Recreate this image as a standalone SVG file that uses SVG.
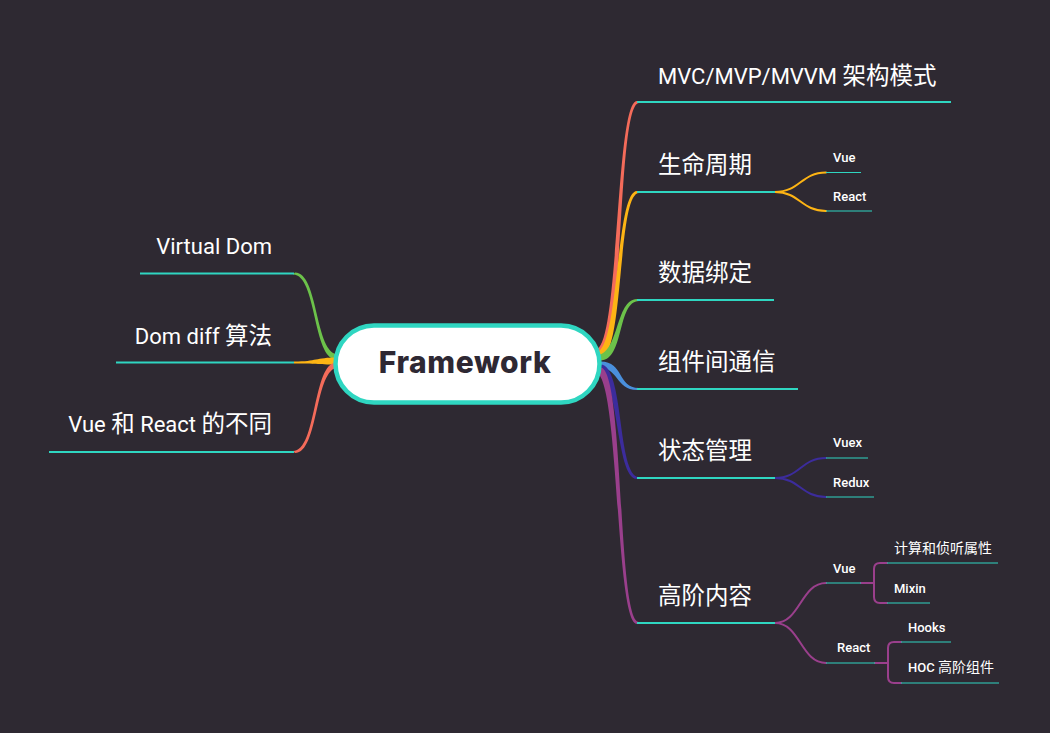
<svg xmlns="http://www.w3.org/2000/svg" width="1050" height="733" viewBox="0 0 1050 733">
<style>
.lbl{fill:#ffffff;font-family:Roboto,"Noto Sans CJK SC",sans-serif;font-size:22px;font-weight:400}
.sub{fill:#ffffff;font-family:Roboto,"Noto Sans CJK SC",sans-serif;font-size:13px;font-weight:500}
.cj{font-family:"Noto Sans CJK SC",sans-serif;font-size:23.5px;font-weight:400}
.cs{font-family:"Noto Sans CJK SC",sans-serif;font-size:14px;font-weight:400}
.ul{stroke:#2fd6c1;stroke-width:2;fill:none}
.ul2{stroke:#2fd6c1;stroke-width:1.2;fill:none}
.sb{fill:none;stroke-width:2;stroke-linecap:round}
</style>
<rect width="1050" height="733" fill="#2e2932"/>
<g id="connectors">
  <path fill="#f46b5a" d="M600.5,354.5 C624.5,354.5 617,103 639,103 L637,101 C615,101 619.5,349.5 595.5,349.5 Z"/>
  <path fill="#fdb414" d="M600.5,357.5 C624.5,357.5 617,193 639,193 L637,191 C615,191 619.5,352.5 595.5,352.5 Z"/>
  <path fill="#6cc24a" d="M600.5,360.5 C624.5,360.5 617,301 639,301 L637,299 C615,299 619.5,355.5 595.5,355.5 Z"/>
  <path fill="#4a8fdc" d="M600.5,361.5 C624.5,361.5 617,388 639,388 L637,390 C615,390 619.5,366.5 595.5,366.5 Z"/>
  <path fill="#3c2c9c" d="M600.5,364.5 C624.5,364.5 617,477 639,477 L637,479 C615,479 619.5,369.5 595.5,369.5 Z"/>
  <path fill="#9a3f8c" d="M600.5,367.5 C624.5,367.5 617,622 639,622 L637,624 C615,624 619.5,372.5 595.5,372.5 Z"/>
  <path fill="#6cc24a" d="M338.5,354.5 C314.5,354.5 319,272.5 295,272.5 L293,274.5 C317,274.5 312.5,359.5 336.5,359.5 Z"/>
  <path fill="#fdb414" d="M338,357.5 C314,357.5 318,361.5 294,361.5 L294,363.5 C318,363.5 314,364.5 338,364.5 Z"/>
  <path fill="#f46b5a" d="M336.5,362.5 C312.5,362.5 317,451 293,451 L295,453 C319,453 314.5,367.5 338.5,367.5 Z"/>
  <path class="sb" stroke="#fdb414" d="M775,192 C800,192 801,172.5 826,172.5 M775,192 C800,192 801,211 826,211"/>
  <path class="sb" stroke="#3c2c9c" d="M775,478 C800,478 801,458 826,458 M775,478 C800,478 801,497 826,497"/>
  <path class="sb" stroke="#9a3f8c" d="M775,623 C800,623 801,583 826,583 M775,623 C800,623 801,663 826,663"/>
  <path class="sb" stroke="#9a3f8c" d="M861,583 H874 M887,563 H880 Q874,563 874,569 V597 Q874,603 880,603 H887"/>
  <path class="sb" stroke="#9a3f8c" d="M875,663 H888 M901,642 H894 Q888,642 888,648 V677 Q888,683 894,683 H901"/>
  <path class="ul" d="M637,102 H951 M637,192 H775 M637,300 H774 M637,389 H798 M637,478 H775 M637,623 H775"/>
  <path class="ul" d="M140,273.5 H294 M116,362.5 H294 M49,452 H294"/>
  <path class="ul2" d="M826,172.5 H861 M826,211 H872 M826,458 H868 M826,497 H874 M826,583 H861 M826,663 H875 M887,563 H998 M887,603 H930 M901,642 H951 M901,683 H999"/>
</g>
<g id="root">
  <rect x="335.5" y="325.5" width="264" height="77" rx="38.5" fill="#ffffff" stroke="#2fd6c1" stroke-width="4.5"/>
  <text x="465" y="373" text-anchor="middle" font-family="Inter,'Liberation Sans',sans-serif" font-weight="800" font-size="30" letter-spacing="0.6" fill="#2e2833">Framework</text>
</g>
<g id="n-mvc"><text class="lbl" x="658" y="84">MVC/MVP/MVVM <tspan class="cj">架构模式</tspan></text></g>
<g id="n-life"><text class="lbl" x="658" y="173"><tspan class="cj">生命周期</tspan></text></g>
<g id="n-life-vue"><text class="sub" x="833" y="162">Vue</text></g>
<g id="n-life-react"><text class="sub" x="833" y="201">React</text></g>
<g id="n-bind"><text class="lbl" x="658" y="281"><tspan class="cj">数据绑定</tspan></text></g>
<g id="n-comm"><text class="lbl" x="658" y="370"><tspan class="cj">组件间通信</tspan></text></g>
<g id="n-state"><text class="lbl" x="658" y="459"><tspan class="cj">状态管理</tspan></text></g>
<g id="n-vuex"><text class="sub" x="833" y="447">Vuex</text></g>
<g id="n-redux"><text class="sub" x="833" y="487">Redux</text></g>
<g id="n-adv"><text class="lbl" x="658" y="604"><tspan class="cj">高阶内容</tspan></text></g>
<g id="n-adv-vue"><text class="sub" x="833" y="573">Vue</text></g>
<g id="n-computed"><text class="sub" x="894" y="553"><tspan class="cs">计算和侦听属性</tspan></text></g>
<g id="n-mixin"><text class="sub" x="894" y="593">Mixin</text></g>
<g id="n-adv-react"><text class="sub" x="837" y="652">React</text></g>
<g id="n-hooks"><text class="sub" x="908" y="632">Hooks</text></g>
<g id="n-hoc"><text class="sub" x="908" y="672">HOC <tspan class="cs">高阶组件</tspan></text></g>
<g id="n-vdom"><text class="lbl" x="272" y="254" text-anchor="end">Virtual Dom</text></g>
<g id="n-diff"><text class="lbl" x="272" y="344" text-anchor="end">Dom diff <tspan class="cj">算法</tspan></text></g>
<g id="n-vr"><text class="lbl" x="272" y="432" text-anchor="end">Vue <tspan class="cj">和</tspan> React <tspan class="cj">的不同</tspan></text></g>
</svg>
